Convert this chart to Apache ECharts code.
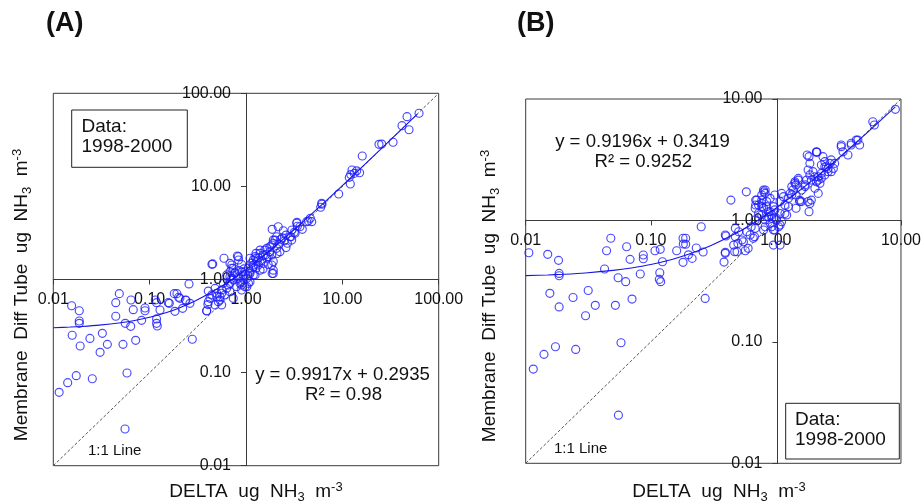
<!DOCTYPE html>
<html>
<head>
<meta charset="utf-8">
<script src="https://cdn.jsdelivr.net/npm/echarts@6/dist/echarts.min.js"></script>
<style>html,body{margin:0;padding:0;background:#fff}#c{width:924px;height:504px}</style>
</head>
<body>
<div id="c"></div>
<script>
// ---------- DATA ----------
// Panel A: DELTA (x) vs Membrane Diff Tube (y), ug NH3 m-3
const pointsA = [
 [0.0115,0.0614],[0.0141,0.078],[0.0173,0.0927],[0.0254,0.0859],[0.0582,0.099],[0.0555,0.0248],
 [0.0157,0.252],[0.019,0.193],[0.024,0.233],[0.0323,0.264],[0.0306,0.165],[0.0364,0.201],[0.0529,0.201],[0.0716,0.222],[0.277,0.228],
 [0.0186,0.358],[0.0186,0.338],[0.0186,0.462],[0.0155,0.523],
 [0.0636,0.314],[0.0558,0.338],[0.0826,0.364],[0.0445,0.403],[0.0445,0.564],[0.0484,0.705],[0.064,0.603],[0.0676,0.474],[0.0895,0.494],[0.0895,0.462],
 [0.1146,0.603],[0.118,0.564],[0.118,0.377],[0.118,0.338],[0.12,0.317],[0.156,0.564],[0.18,0.705],[0.192,0.705],[0.2,0.644],[0.183,0.455],[0.22,0.49],[0.238,0.598],[0.256,0.896],[0.391,0.459],[0.451,1.47],
 [0.128,0.47],[0.206,0.628],[0.16,0.555],[0.262,0.555],[0.235,0.603],
 [0.443,1.456],[0.591,1.69],[0.406,0.751],[0.402,0.538],
 [0.711,1.43],[0.738,1.32],[0.682,1.21],[0.769,1.17],[0.902,1.21],[0.937,1.12],[0.832,1.03],[0.711,1.03],[0.631,1.12],[0.581,0.91],[0.655,0.873],[0.8,0.838],[0.902,0.873],[1.02,0.838],[1.1,0.946],[0.559,0.771],[0.496,0.711],[0.441,0.683],[0.537,0.654],[0.605,0.683],[0.682,0.74],[0.738,0.628],[0.516,0.578],[0.477,0.533],[0.559,0.533],[0.423,0.628],
 [0.832,1.76],[0.837,1.62],[1.19,1.43],[1.27,1.69],[1.19,1.12],[1.1,1.21],[1.27,1.32],[1.02,1.03],
 [0.977,0.838],[1.06,0.91],[0.902,0.771],
 [0.682,1.49],[0.711,1.32],[0.813,1.79],[0.769,1.18],[0.682,1.07],[0.738,0.989],[0.832,1.07],[0.865,0.91],[0.682,0.91],[0.631,0.803],[0.559,0.711],[0.537,0.603],[0.496,0.654],[0.477,0.803],[0.406,0.578],[0.391,0.462],
 [1.19,1.62],[1.27,1.91],[1.40,2.07],[1.51,1.83],[1.64,2.16],[1.77,1.99],[1.85,2.35],[1.92,2.65],[2.08,2.88],[1.87,3.46],[2.16,3.69],[1.92,1.16],
 [2.44,3.34],[2.38,2.81],[2.86,2.88],[2.98,2.65],[2.69,2.45],[3.23,3.13],[3.36,4.02],[3.63,3.69],[4.26,4.18],[4.81,4.18],[6.10,6.58],
 [2.0,2.65],[1.92,2.45],[1.77,2.25],[1.57,2.07],[1.40,1.91],[1.24,1.76],[1.10,1.69],[2.08,2.16],[2.25,1.99],[1.85,1.83],[1.64,1.69],[1.92,1.56],[1.51,1.49],[1.34,1.43],[1.19,1.37],[1.06,1.32],[1.85,1.43],[1.92,1.26],[1.87,1.16],[1.40,1.26],[1.24,1.12],[1.10,1.16],[0.977,1.21],
 [1.3,1.55],[1.45,1.6],[1.6,1.85],[1.7,1.75],[2.2,2.4],[2.5,2.6],[2.6,3.0],[2.3,2.7],[1.15,1.5],[1.35,1.7],[0.95,1.3],[0.9,1.45],[0.85,1.25],[0.95,1.0],[0.88,0.95],[1.05,1.1],[1.5,1.3],[1.7,1.45],[2.1,1.9],[2.6,2.2],[3.0,3.4],
 [6.15,6.43],[5.96,5.97],[4.65,4.54],[4.43,4.25],[3.84,3.46],[3.38,4.11],[3.41,3.73],[3.17,3.21],[2.93,2.88],
 [9.16,8.28],[15.1,14.0],[14.1,14.7],[12.6,15.0],[12.2,13.4],[11.8,12.5],[12.1,10.6],[13.3,13.8],[16.1,21.2],
 [24,28.3],[25.6,28.5],[33.6,29.8],[41.6,44.9],[49.2,40.6],[46.9,56.1],[62.5,61]
];
// Panel B
const pointsB = [
 [0.0115,0.0597],[0.014,0.0789],[0.0173,0.0912],[0.0251,0.0867],[0.0578,0.0984],[0.0551,0.0249],
 [0.0156,0.251],[0.0185,0.194],[0.0239,0.232],[0.0316,0.265],[0.0301,0.164],[0.036,0.2],[0.0521,0.2],[0.0708,0.225],[0.272,0.228],
 [0.0185,0.35],[0.0185,0.366],[0.0183,0.469],[0.015,0.526],[0.0106,0.542],
 [0.0427,0.398],[0.0443,0.563],[0.0479,0.713],[0.0548,0.337],[0.063,0.313],[0.0641,0.607],[0.0683,0.478],[0.0824,0.362],[0.0871,0.519],[0.0871,0.484],
 [0.108,0.563],[0.119,0.578],[0.118,0.371],[0.117,0.327],[0.12,0.313],[0.124,0.457],[0.161,0.563],[0.181,0.713],[0.19,0.713],[0.182,0.64],[0.19,0.637],[0.181,0.452],[0.2,0.521],[0.214,0.487],[0.231,0.593],[0.253,0.887],[0.262,0.55],
 [0.399,0.745],[0.394,0.536],[0.385,0.454],[0.437,1.47],[0.58,1.72],
 [0.468,0.552],[0.497,0.647],[0.504,0.807],[0.535,0.69],[0.569,0.563],[0.474,0.861],
 [0.675,0.735],[0.635,0.887],[0.683,1.01],[0.727,1.14],[0.771,1.30],[0.689,1.47],[0.689,1.34],[0.797,1.78],[0.8,1.72],[0.771,1.62],[0.771,1.47],
 [0.845,1.30],[0.9,1.18],[0.873,1.07],[0.821,1.01],[0.927,1.04],[0.9,0.946],[0.821,0.887],[0.955,0.834],[1.05,0.887],[1.01,1.01],[0.955,1.30],[1.08,1.43],[1.11,1.67],[1.15,1.57],[1.18,1.14],[1.26,1.30],[1.30,1.67],[1.34,1.90],[1.42,2.02],[1.51,2.22],[1.60,1.78],[1.71,1.90],[1.81,2.60],[1.87,2.95],[1.92,2.15],[2.05,2.29],[2.18,2.15],[2.31,2.44],[2.11,3.68],[2.31,2.86],[1.84,3.35],[2.38,3.35],[2.46,2.77],[2.61,2.68],[2.77,3.15],[2.95,2.95],[3.33,4.18],[3.44,3.68],[3.77,3.46],[4.39,4.59],[4.67,4.18],[5.95,6.50],[6.13,6.11],[9.02,8.22],
 [1.84,1.18],[1.87,1.38],[1.60,1.43],[2.18,1.67],
 [0.955,0.627],[1.08,0.627],
 [1.78,3.46],[2.11,3.64],[3.33,4.05],[4.0,4.32],[4.52,4.59],
 [2.13,3.64],[2.46,3.05],[2.53,2.77],[2.70,2.95],[2.88,2.68],[2.77,2.52],[2.61,2.52],[2.46,2.37],[2.31,2.22],[2.18,2.29],[2.11,2.08],[2.25,2.02],[2.05,1.84],[1.92,1.47],[1.81,1.43],[1.55,1.47],[1.45,1.62],[1.71,1.96],[1.76,2.15],[1.87,2.37],[1.98,2.52],[4.0,4.18],
 [0.821,1.78],[0.821,1.67],[0.703,1.47],[0.727,1.34],[0.683,1.26],[0.771,1.38],[0.797,1.26],[0.845,1.43],[0.9,1.52],[0.98,1.62],[0.98,1.22],[0.873,1.18],[0.771,1.11],[0.845,1.07],[0.927,1.11],[1.01,1.04],[1.08,1.14],[1.11,0.975],[1.22,1.11],[1.18,1.34],[1.26,1.52],[1.34,1.62],[1.37,1.78],[1.45,1.96],[1.51,2.15],[1.42,2.08],[1.55,1.43],[1.45,1.26],
 [0.394,0.759],[0.46,0.627],[0.474,0.735],[0.55,0.668],[0.586,0.807],[0.622,0.759],[0.66,0.713],[0.683,0.861],[0.797,0.834],[0.927,0.887],[0.98,0.834],[1.08,0.916],[0.6,0.589],[0.489,0.552],[0.394,0.546]
];
// Trend lines as drawn (y = 0.9917x + 0.2935 and y = 0.9196x + 0.3419)
const fitAx = [0.01,0.015,0.02,0.03,0.05,0.07,0.1,0.15,0.2,0.3,0.5,0.7,1,1.5,2,3,5,10,20,60];
const fitAy = [0.3034,0.3084,0.3133,0.3233,0.3431,0.3629,0.3927,0.4423,0.4918,0.591,0.7894,0.9877,1.285,1.781,2.277,3.269,5.252,10.21,20.13,59.8];
const fitBx = [0.01,0.015,0.02,0.03,0.05,0.07,0.1,0.15,0.2,0.3,0.5,0.7,1,1.5,2,3,5,9];
const fitBy = [0.3511,0.3557,0.3603,0.3695,0.3879,0.4063,0.4339,0.4798,0.5258,0.6178,0.8017,0.9856,1.2615,1.7213,2.1811,3.1007,4.9399,8.6183];
const oneToOneA = [0.01, 100];
const oneToOneB = [0.01, 10];
const rangeA = [0.01, 100];
const rangeB = [0.01, 10];
const eqA = ['y = 0.9917x + 0.2935', 'R² = 0.98'];
const eqB = ['y = 0.9196x + 0.3419', 'R² = 0.9252'];
const dataNote = ['Data:', '1998-2000'];
const panelLabels = ['(A)', '(B)'];

// ---------- CHART ----------
const FONT = '"Liberation Sans", Arial, sans-serif';
const TXT = '#111';
const AX = '#3a3a3a';
const BLUE = '#1c1cff';

const gA = {left: 53.3, top: 93.3, width: 385.4, height: 372.4};
const gB = {left: 525.7, top: 99, width: 377.6, height: 364.3};

function frac(range, v) { return (Math.log10(v) - Math.log10(range[0])) / (Math.log10(range[1]) - Math.log10(range[0])); }

function xAxisFor(idx, g, range) {
  return {
    type: 'log', logBase: 10, gridIndex: idx, min: range[0], max: range[1], interval: 1,
    position: 'bottom', offset: -g.height * frac(range, 1),
    axisLine: {show: true, lineStyle: {color: AX, width: 1}},
    axisTick: {show: true, length: 5, lineStyle: {color: AX}},
    minorTick: {show: false}, splitLine: {show: false},
    axisLabel: {color: TXT, fontSize: 16, fontFamily: FONT, margin: 12, formatter: v => Number(v).toFixed(2)}
  };
}
function yAxisFor(idx, g, range) {
  return {
    type: 'log', logBase: 10, gridIndex: idx, min: range[0], max: range[1], interval: 1,
    position: 'left', offset: -g.width * frac(range, 1),
    axisLine: {show: true, lineStyle: {color: AX, width: 1}},
    axisTick: {show: true, length: 5, lineStyle: {color: AX}},
    minorTick: {show: false}, splitLine: {show: false},
    axisLabel: {color: TXT, fontSize: 16, fontFamily: FONT, margin: 15, formatter: v => Number(v).toFixed(2)}
  };
}
function zip(a, b) { return a.map((v, i) => [v, b[i]]); }

const scatterStyle = {
  type: 'scatter', symbol: 'circle', symbolSize: 8,
  itemStyle: {color: 'rgba(0,0,0,0)', borderColor: BLUE, borderWidth: 1.15},
  z: 3, silent: true
};

const gridBox = g => Object.assign({show: true, borderColor: AX, borderWidth: 1, backgroundColor: 'transparent'}, g);

function txt(x, y, text, size, extra) {
  return {type: 'text', x: x, y: y, z: 100,
    style: Object.assign({text: text, fill: TXT, fontSize: size, fontFamily: FONT, fontWeight: 'normal', align: 'left', verticalAlign: 'middle'}, extra || {})};
}
function titleText(x, y, rot, label) {
  return {
    type: 'text', x: x, y: y, rotation: rot, z: 100,
    style: {
      text: label, align: 'center', verticalAlign: 'middle', fill: TXT,
      rich: {
        n: {fontSize: 19, fontFamily: FONT, fill: TXT, lineHeight: 23, verticalAlign: 'middle'},
        sub: {fontSize: 13, fontFamily: FONT, fill: TXT, lineHeight: 23, verticalAlign: 'bottom'},
        sup: {fontSize: 13, fontFamily: FONT, fill: TXT, lineHeight: 23, verticalAlign: 'top'}
      }
    }
  };
}
const xTitle = '{n|DELTA  ug  NH}{sub|3}{n|  m}{sup|-3}';
const yTitle = '{n|Membrane  Diff Tube  ug  NH}{sub|3}{n|  m}{sup|-3}';

const chart = echarts.init(document.getElementById('c'), null, {renderer: 'canvas'});
chart.setOption({
  animation: false,
  backgroundColor: '#fff',
  grid: [gridBox(gA), gridBox(gB)],
  xAxis: [xAxisFor(0, gA, rangeA), xAxisFor(1, gB, rangeB)],
  yAxis: [yAxisFor(0, gA, rangeA), yAxisFor(1, gB, rangeB)],
  series: [
    {type: 'line', xAxisIndex: 0, yAxisIndex: 0, data: zip(oneToOneA, oneToOneA), symbol: 'none', silent: true, z: 2,
     lineStyle: {color: '#555', width: 1, type: [3, 2]}},
    Object.assign({}, scatterStyle, {xAxisIndex: 0, yAxisIndex: 0, data: pointsA}),
    {type: 'line', xAxisIndex: 0, yAxisIndex: 0, data: zip(fitAx, fitAy), symbol: 'none', smooth: 0.3, silent: true, z: 4,
     lineStyle: {color: '#1515e6', width: 1.1}},
    {type: 'line', xAxisIndex: 1, yAxisIndex: 1, data: zip(oneToOneB, oneToOneB), symbol: 'none', silent: true, z: 2,
     lineStyle: {color: '#555', width: 1, type: [3, 2]}},
    Object.assign({}, scatterStyle, {xAxisIndex: 1, yAxisIndex: 1, data: pointsB}),
    {type: 'line', xAxisIndex: 1, yAxisIndex: 1, data: zip(fitBx, fitBy), symbol: 'none', smooth: 0.3, silent: true, z: 4,
     lineStyle: {color: '#1515e6', width: 1.1}}
  ],
  graphic: [
    txt(46, 24, panelLabels[0], 27, {fontWeight: 'bold'}),
    txt(517, 24, panelLabels[1], 27, {fontWeight: 'bold'}),
    // data boxes
    {type: 'rect', shape: {x: 71.7, y: 110, width: 115.6, height: 57.3}, style: {fill: '#fff', stroke: '#222', lineWidth: 1}, z: 90},
    txt(81.5, 126.5, dataNote[0], 19),
    txt(81.5, 146.5, dataNote[1], 19),
    {type: 'rect', shape: {x: 785.7, y: 403.3, width: 113.6, height: 55.7}, style: {fill: '#fff', stroke: '#222', lineWidth: 1}, z: 90},
    txt(795, 419.5, dataNote[0], 19),
    txt(795, 439.5, dataNote[1], 19),
    // equations
    txt(342.5, 375, eqA[0], 18.6, {align: 'center'}),
    txt(343.5, 395, eqA[1], 18.6, {align: 'center'}),
    txt(642.5, 142.3, eqB[0], 18.6, {align: 'center'}),
    txt(643.3, 161.7, eqB[1], 18.6, {align: 'center'}),
    // 1:1 labels
    txt(88, 451, '1:1 Line', 15),
    txt(554, 449, '1:1 Line', 15),
    // axis titles
    titleText(256, 492, 0, xTitle),
    titleText(719, 492, 0, xTitle),
    titleText(22, 295, Math.PI / 2, yTitle),
    titleText(490, 296, Math.PI / 2, yTitle)
  ]
});
</script>
</body>
</html>
